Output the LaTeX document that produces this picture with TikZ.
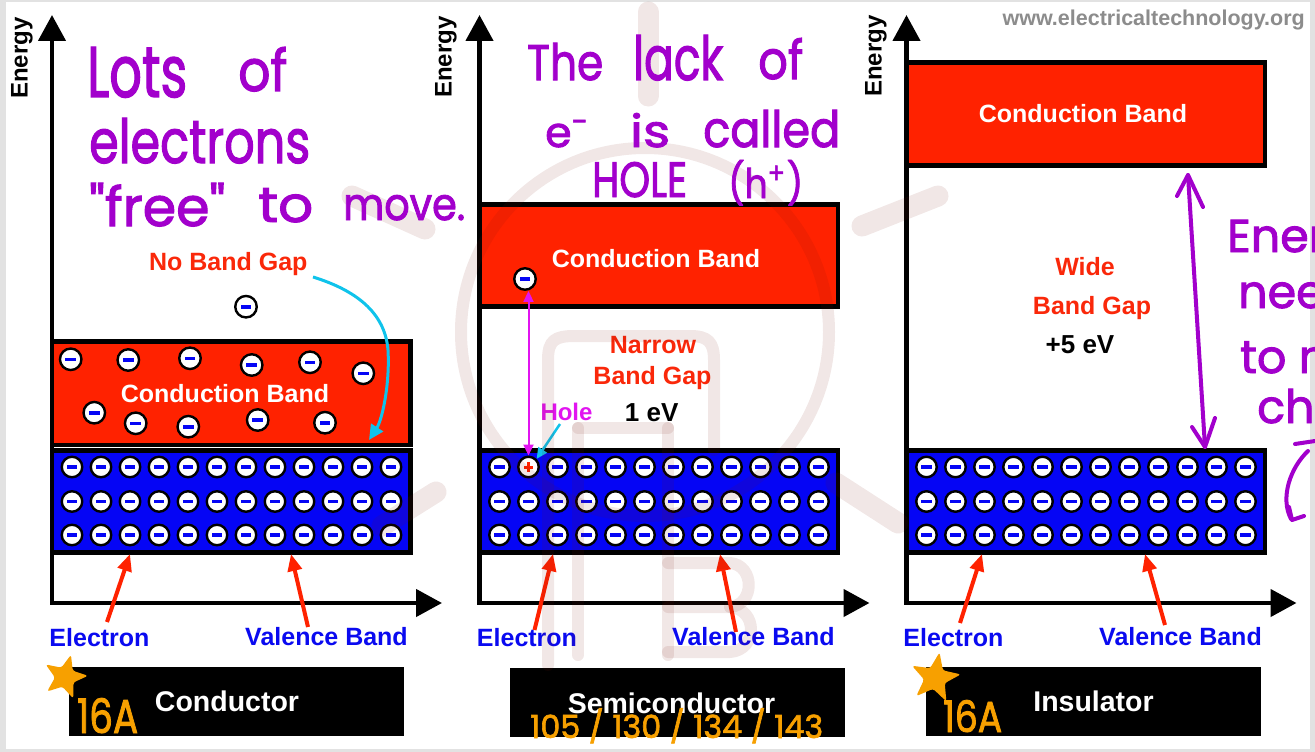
\documentclass[tikz,border=0pt]{standalone}
\usepackage{fontspec}
\setmainfont{Liberation Sans}
\newfontfamily\handfont{Poppins}[FakeBold=2]
\usepackage{graphicx}
\usetikzlibrary{arrows.meta}

\definecolor{bandred}{RGB}{255,34,0}
\definecolor{bandblue}{RGB}{5,5,245}
\definecolor{labelblue}{RGB}{10,10,240}
\definecolor{gapred}{RGB}{250,40,10}
\definecolor{holepink}{RGB}{225,20,240}
\definecolor{cyanarrow}{RGB}{15,195,235}
\definecolor{inkpurple}{RGB}{162,0,204}
\definecolor{inkorange}{RGB}{247,160,0}
\definecolor{framegray}{RGB}{226,226,226}
\definecolor{urlgray}{RGB}{140,140,140}
\definecolor{logotint}{RGB}{120,20,10}

% handwritten word scaled into a box of given width and height (pt)
\newcommand\hw[3]{\resizebox{#1pt}{#2pt}{#3}}

\tikzset{
  band/.style={draw=black, line width=4.5pt, inner sep=0pt, outer sep=0pt, minimum width=358.5pt},
  namebox/.style={fill=black, inner sep=0pt, outer sep=0pt, minimum width=335pt, minimum height=69pt},
  axisline/.style={line width=4.5pt, {Triangle[length=26pt,width=27pt]}-{Triangle[length=26pt,width=27pt]}},
  lbl/.style={inner sep=0pt, anchor=base, font=\fontsize{25}{30}\selectfont\bfseries},
  bandlbl/.style={lbl, text=white},
  gaplbl/.style={lbl, text=gapred},
  eVlbl/.style={lbl, text=black, font=\fontsize{26}{30}\selectfont\bfseries},
  bluelbl/.style={lbl, text=labelblue},
  namelbl/.style={lbl, text=white, font=\fontsize{28.5}{32}\selectfont\bfseries},
  energylbl/.style={inner sep=0pt, rotate=90, font=\fontsize{24}{28}\selectfont\bfseries},
  electron/.style={circle, draw=black, line width=2.4pt, fill=white, minimum size=20.5pt, inner sep=0pt,
    path picture={\fill[bandblue] ([xshift=-5.3pt,yshift=-1.8pt]path picture bounding box.center)
      rectangle ([xshift=5.3pt,yshift=1.8pt]path picture bounding box.center);}},
  freeelectron/.style={electron, minimum size=21.5pt},
  hole/.style={circle, draw=black, line width=2.4pt, fill=white, minimum size=20.5pt, inner sep=0pt,
    path picture={
      \fill[bandred] ([xshift=-4.6pt,yshift=-1.5pt]path picture bounding box.center)
        rectangle ([xshift=4.6pt,yshift=1.5pt]path picture bounding box.center);
      \fill[bandred] ([xshift=-1.5pt,yshift=-4.6pt]path picture bounding box.center)
        rectangle ([xshift=1.5pt,yshift=4.6pt]path picture bounding box.center);}},
  redarrow/.style={draw=bandred, line width=4pt, -{Triangle[length=17pt,width=14pt]}},
  holearrow/.style={draw=holepink, line width=2pt, {Triangle[length=11pt,width=10pt]}-{Triangle[length=11pt,width=10pt]}},
  cyanline/.style={draw=cyanarrow, line width=3pt, -{Triangle[length=15pt,width=14pt]}},
  inkhand/.style={inner sep=0pt, anchor=base west, text=inkpurple, font=\handfont},
  orangehand/.style={inner sep=0pt, anchor=base west, text=inkorange, font=\handfont},
  inkline/.style={draw=inkpurple, line width=4pt, line cap=round, line join=round},
}

\begin{document}
\begin{tikzpicture}[x=1pt,y=-1pt]
\useasboundingbox (0,0) rectangle (1315,752);
\fill[framegray] (0,0) rectangle (1315,752);
\fill[white] (6,2) rectangle (1310,749);

% site address
\node[inner sep=0pt, anchor=base east, text=urlgray, font=\fontsize{21.5}{24}\selectfont\bfseries]
  (url) at (1305,25.7) {www.electricaltechnology.org};

% energy axes of the three panels
\foreach \n/\px in {c/52, s/479.5, i/906.5} {
  \coordinate (\n-top) at (\px,15);
  \coordinate (\n-origin) at (\px,603);
  \coordinate (\n-end) at (\px+390,603);
  \draw[axisline] (\n-top) -- (\n-origin) -- (\n-end);
}
\node[energylbl] (c-energy) at (22,58) {Energy};
\node[energylbl] (s-energy) at (446,57) {Energy};
\node[energylbl] (i-energy) at (876,56) {Energy};

% bands
\node[band, fill=bandred, minimum height=103.5pt] (c-cb) at (231.25,393.25) {};
\node[band, fill=bandblue, minimum height=102pt] (c-vb) at (231.25,501.5) {};
\node[band, fill=bandred, minimum height=102pt] (s-cb) at (658.75,255.5) {};
\node[band, fill=bandblue, minimum height=102pt] (s-vb) at (658.75,501.5) {};
\node[band, fill=bandred, minimum height=103pt] (i-cb) at (1085.75,114) {};
\node[band, fill=bandblue, minimum height=102pt] (i-vb) at (1085.75,501.5) {};

\node[bandlbl] (c-cbl) at (225,402.5) {Conduction Band};
\node[bandlbl] (s-cbl) at (656,267) {Conduction Band};
\node[bandlbl] (i-cbl) at (1083,122.5) {Conduction Band};

% valence electrons
\foreach \n/\px in {c/52, i/906.5} {
  \foreach \r/\ry in {1/467, 2/501.5, 3/535} {
    \foreach \k in {0,...,11} {
      \node[electron] (\n-v\r-\k) at ({\px+20+29*\k},\ry) {};
    }
  }
}
\foreach \r/\ry in {2/501.5, 3/535} {
  \foreach \k in {0,...,11} {
    \node[electron] (s-v\r-\k) at ({499.5+29*\k},\ry) {};
  }
}
\foreach \k in {0,2,3,4,5,6,7,8,9,10,11} {
  \node[electron] (s-v1-\k) at ({499.5+29*\k},467) {};
}
\node[hole] (s-hole) at (528.5,467) {};

% free electrons of the conductor
\foreach \x/\y [count=\j] in {70.7/359.3, 128.3/360, 190/358.3, 251.7/365, 310/362.3, 363.3/373.3,
    94.3/412.7, 135.7/423.3, 188.3/426.7, 257.7/420, 325/422.7, 246/306.7} {
  \node[freeelectron] (c-free\j) at (\x,\y) {};
}
% excited electron of the semiconductor
\node[freeelectron] (s-free) at (525,279) {};

% gap labels
\node[gaplbl] (c-gap) at (228.3,270.7) {No Band Gap};
\coordinate (c-gaptail) at (313,277);
\coordinate (c-gaptip) at (369,440);
\draw[cyanline] (c-gaptail) .. controls (355,290) and (385,312) .. (388,350)
  .. controls (390,385) and (382,420) .. (c-gaptip);

\node[gaplbl] (s-gap1) at (653,353.5) {Narrow};
\node[gaplbl] (s-gap2) at (652.5,384) {Band Gap};
\node[eVlbl] (s-ev) at (651.7,421) {1 eV};
\node[lbl, text=holepink, font=\fontsize{24}{28}\selectfont\bfseries] (s-holel) at (566.5,420) {Hole};
\draw[holearrow] (s-hole.north) -- (s-hole.north |- s-free.south);
\coordinate (s-holetail) at (560,424);
\draw[draw=cyanarrow, line width=2.5pt, -{Triangle[length=11pt,width=10pt]}] (s-holetail) -- (s-hole.north east);

\node[gaplbl] (i-gap1) at (1085,275) {Wide};
\node[gaplbl] (i-gap2) at (1092,314) {Band Gap};
\node[eVlbl] (i-ev) at (1080,353) {+5 eV};

% axis labels with their pointers
\node[bluelbl] (c-el) at (99.5,646) {Electron};
\node[bluelbl] (c-vl) at (326.5,645) {Valence Band};
\node[bluelbl] (s-el) at (527,646.5) {Electron};
\node[bluelbl] (s-vl) at (753.5,645) {Valence Band};
\node[bluelbl] (i-el) at (953.5,646) {Electron};
\node[bluelbl] (i-vl) at (1180.5,645) {Valence Band};

\foreach \n/\ax/\ay/\bx/\by/\cx/\cy/\dx/\dy in
   {c/107/622/130/554/308/627/291/554,
    s/534.5/630/553/554/736/632/720/554,
    i/960/623/982/554/1165/625/1145/554} {
  \coordinate (\n-etail) at (\ax,\ay);
  \coordinate (\n-etip) at (\bx,\by);
  \coordinate (\n-vtail) at (\cx,\cy);
  \coordinate (\n-vtip) at (\dx,\dy);
  \draw[redarrow] (\n-etail) -- (\n-etip);
  \draw[redarrow] (\n-vtail) -- (\n-vtip);
}

% material names
\node[namebox] (c-box) at (236.5,701.5) {};
\node[namebox] (s-box) at (677.5,702.5) {};
\node[namebox] (i-box) at (1093.5,701.5) {};
\node[namelbl] (c-name) at (227,711.5) {Conductor};
\node[namelbl] (s-name) at (671.5,713.5) {Semiconductor};
\node[namelbl] (i-name) at (1093.5,711.5) {Insulator};

% faint logo
\begin{scope}[draw=logotint, draw opacity=0.1, line cap=round, line join=round]
  \draw[line width=12pt] (645,332) circle[radius=184];
  \draw[line width=21pt] (648,12) -- (648,96);
  \draw[line width=21pt] (352,196) -- (425,229);
  \draw[line width=21pt] (862,226) -- (938,196);
  \draw[line width=21pt] (382,526) -- (436,492);
  \draw[line width=21pt] (836,483) -- (898,523);
  \draw[line width=12pt] (548,665) -- (548,360) .. controls (548,340) and (555,336) .. (575,336)
    -- (690,336) .. controls (708,336) and (714,342) .. (714,360) -- (714,450);
  \draw[line width=12pt] (578,428) -- (578,655);
  \draw[line width=12pt] (578,428) -- (668,428);
  \draw[line width=12pt] (668,428) -- (668,655);
  \draw[line width=12pt] (668,563) -- (730,563) .. controls (755,565) and (755,605) .. (730,607) -- (668,607);
  \draw[line width=12pt] (730,607) .. controls (758,609) and (758,650) .. (730,652) -- (668,652);
\end{scope}

% handwritten notes
\node[inkhand] (h1) at (87,97) {\hw{100}{50}{Lots}};
\node[inkhand] (h2) at (238,91) {\hw{49}{44}{of}};
\node[inkhand] (h3) at (89,163) {\hw{221}{45}{electrons}};
\node[inkhand] (h4) at (89,226) {\hw{136}{43}{"free"}};
\node[inkhand] (h5) at (258,222) {\hw{55}{34}{to}};
\node[inkhand] (h6) at (343,220) {\hw{122}{25}{move.}};

\node[inkhand] (h7) at (527,80) {\hw{76}{37}{The}};
\node[inkhand] (h8) at (633,80) {\hw{90}{45}{lack}};
\node[inkhand] (h9) at (758,79) {\hw{45}{41}{of}};
\node[inkhand] (h10) at (545,147) {\hw{45}{27}{e\textsuperscript{-}}};
\node[inkhand] (h11) at (630,147) {\hw{40}{34}{is}};
\node[inkhand] (h12) at (703,147) {\hw{137}{37}{called}};
\node[inkhand] (h13) at (592,197) {\hw{95}{35}{HOLE}};
\node[inkhand] (h14) at (728,198) {\hw{75}{38}{(h\textsuperscript{+})}};

\begin{scope}
  \clip (0,0) rectangle (1315,752);
  \node[inkhand, font=\handfont\fontsize{46}{50}\selectfont] (h15) at (1227,252) {Ener};
  \node[inkhand, font=\handfont\fontsize{46}{50}\selectfont] (h16) at (1238,308) {need};
  \node[inkhand, font=\handfont\fontsize{46}{50}\selectfont] (h17) at (1240,373) {to m};
  \node[inkhand, font=\handfont\fontsize{46}{50}\selectfont] (h18) at (1257,423) {cha};
  \draw[inkline] (1295,444) -- (1315,441);
  \draw[inkline] (1308,451) .. controls (1290,468) and (1280,498) .. (1291,519);
  \draw[inkline] (1289,507) -- (1292,520) -- (1304,516);
\end{scope}

% hand-drawn gap arrow of the insulator
\coordinate (i-gaptop) at (1188,175);
\coordinate (i-gapbot) at (1205,447);
\draw[inkline] (i-gaptop) -- (i-gapbot);
\draw[inkline] (1177,196) -- (i-gaptop) -- (1203,207);
\draw[inkline] (1192,427) -- (i-gapbot) -- (1215,418);

% orange marks
\fill[inkorange, rounded corners=2.5pt, shift={(65,677)}]
  (-75:23) -- (-39:10) -- (-3:23) -- (33:10) -- (69:23) -- (105:10) -- (141:23) -- (177:10) -- (213:23) -- (249:10) -- cycle;
\fill[inkorange, rounded corners=2.5pt, shift={(935,678)}]
  (-80:26) -- (-44:11) -- (-8:26) -- (28:11) -- (64:26) -- (100:11) -- (136:26) -- (172:11) -- (208:26) -- (244:11) -- cycle;
\node[orangehand] (o1) at (77,733) {\hw{61}{35}{16A}};
\node[orangehand] (o2) at (943,732) {\hw{59}{32}{16A}};
\node[orangehand] (o3) at (530,738) {\resizebox{293pt}{!}{105 / 130 / 134 / 143}};
\end{tikzpicture}
\end{document}
